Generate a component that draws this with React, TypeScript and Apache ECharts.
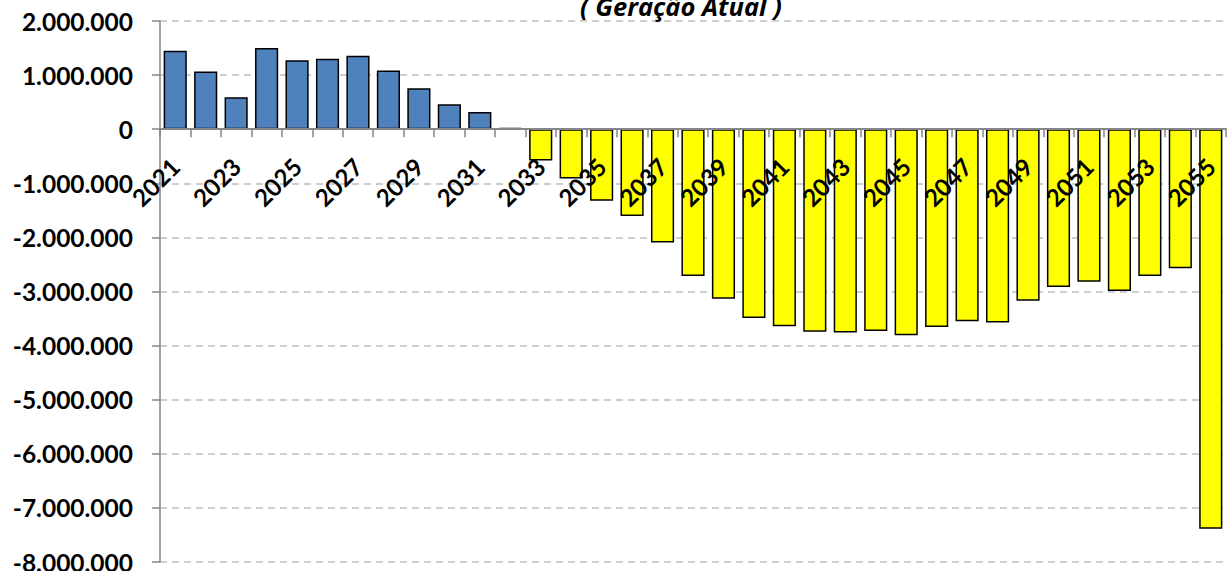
import React, { useEffect, useRef } from "react";
import * as echarts from "echarts";

const years: string[] = [
  "2021", "2022", "2023", "2024", "2025", "2026", "2027", "2028", "2029", "2030",
  "2031", "2032", "2033", "2034", "2035", "2036", "2037", "2038", "2039", "2040",
  "2041", "2042", "2043", "2044", "2045", "2046", "2047", "2048", "2049", "2050",
  "2051", "2052", "2053", "2054", "2055",
];

const values: number[] = [
  1448000, 1066000, 589000, 1499000, 1276000, 1300000, 1356000, 1084000, 756000, 459000,
  316000, 26000, -578000, -911000, -1323000, -1606000, -2092000, -2714000, -3132000, -3489000,
  -3643000, -3742000, -3760000, -3729000, -3809000, -3655000, -3551000, -3575000, -3169000, -2917000,
  -2818000, -2991000, -2714000, -2572000, -7387000,
];

const titleText = "( Geração Atual )";
const yMin = -8000000;
const yMax = 2000000;
const yStep = 1000000;

const positiveColor = "#4F81BD";
const negativeColor = "#FFFF00";

const W = 1227;
const H = 571;
const GRID_TOP = 21;
const GRID_BOTTOM = 9;

function fmt(v: number): string {
  const s = Math.abs(Math.round(v)).toString().replace(/\B(?=(\d{3})+(?!\d))/g, ".");
  return (v < 0 ? "-" : "") + s;
}

export default function App() {
  const ref = useRef<HTMLDivElement>(null);
  useEffect(() => {
    if (!ref.current) return;
    const chart = echarts.init(ref.current, undefined, { renderer: "svg" });
    const plotH = H - GRID_TOP - GRID_BOTTOM;
    const zeroFromBottom = (-yMin / (yMax - yMin)) * plotH;
    chart.setOption({
      animation: false,
      backgroundColor: "#ffffff",
      grid: {
        left: 160,
        right: 1,
        top: GRID_TOP,
        bottom: GRID_BOTTOM,
        containLabel: false,
        outerBoundsMode: "none",
      },
      graphic: [
        {
          type: "text",
          x: 681,
          y: 19,
          z: 10,
          style: {
            text: titleText,
            textAlign: "center",
            textVerticalAlign: "bottom",
            font: "italic bold 25.5px 'Open Sans'",
            fill: "#000000",
          },
        },
      ],
      xAxis: {
        type: "category",
        data: years,
        z: 5,
        position: "bottom",
        offset: -zeroFromBottom,
        axisLine: { onZero: false, lineStyle: { color: "#868686", width: 2 } },
        axisTick: { show: true, interval: 0, length: 8, lineStyle: { color: "#868686", width: 1.5 } },
        axisLabel: {
          interval: 1,
          rotate: 45,
          margin: 33,
          color: "#000000",
          fontFamily: "Lato",
          fontWeight: "bold",
          fontSize: 24,
        },
        splitLine: { show: false },
      },
      yAxis: {
        type: "value",
        min: yMin,
        max: yMax,
        interval: yStep,
        axisLine: { show: true, lineStyle: { color: "#868686", width: 1.5 } },
        axisTick: { show: true, length: 8, lineStyle: { color: "#868686", width: 1.5 } },
        axisLabel: {
          margin: 27,
          color: "#000000",
          fontFamily: "Lato",
          fontWeight: "bold",
          fontSize: 24.5,
          formatter: (v: number) => fmt(v),
        },
        splitLine: { show: true, lineStyle: { color: "#BFBFBF", width: 1.5, type: [7, 5] } },
      },
      series: [
        {
          type: "bar",
          data: values,
          barCategoryGap: "24%",
          itemStyle: {
            color: (p: any) => (p.value >= 0 ? positiveColor : negativeColor),
            borderColor: "#000000",
            borderWidth: 1.5,
          },
        },
      ],
    });
    return () => chart.dispose();
  }, []);
  return (
    <div
      ref={ref}
      style={{ position: "fixed", left: 0, top: 0, width: W, height: H, background: "#fff" }}
    />
  );
}
